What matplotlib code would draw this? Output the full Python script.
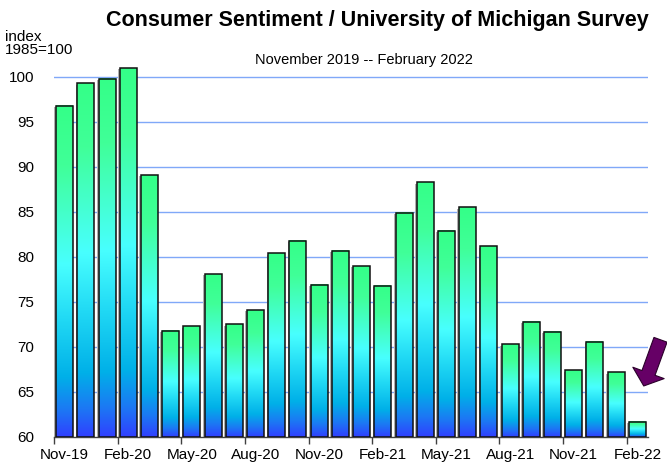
import matplotlib
matplotlib.use("Agg")
import matplotlib.pyplot as plt
import numpy as np
from matplotlib.colors import LinearSegmentedColormap
from matplotlib.patches import Rectangle

months = ["Nov-19", "Dec-19", "Jan-20", "Feb-20", "Mar-20", "Apr-20", "May-20",
          "Jun-20", "Jul-20", "Aug-20", "Sep-20", "Oct-20", "Nov-20", "Dec-20",
          "Jan-21", "Feb-21", "Mar-21", "Apr-21", "May-21", "Jun-21", "Jul-21",
          "Aug-21", "Sep-21", "Oct-21", "Nov-21", "Dec-21", "Jan-22", "Feb-22"]
values = [96.8, 99.3, 99.8, 101.0, 89.1, 71.8, 72.3, 78.1, 72.5, 74.1, 80.4,
          81.8, 76.9, 80.7, 79.0, 76.8, 84.9, 88.3, 82.9, 85.5, 81.2, 70.3,
          72.8, 71.7, 67.4, 70.6, 67.2, 61.7]
yticks = [60, 65, 70, 75, 80, 85, 90, 95, 100]

FONT = ['Liberation Sans Narrow', 'Liberation Sans', 'DejaVu Sans']
plt.rcParams['font.family'] = FONT

fig = plt.figure(figsize=(6.67, 4.68), dpi=100)
ax = fig.add_axes([54/667, 31/468, (648-54)/667, (437-59)/468])
ymin, ymax = 60, 102

cmap = LinearSegmentedColormap.from_list("grad", [
    (0.0, "#3040ff"), (0.08, "#1c78f4"), (0.18, "#00b0e8"),
    (0.35, "#20d8f4"), (0.52, "#48ffff"), (0.68, "#44ffc8"),
    (0.82, "#40ff98"), (1.0, "#34ff88")])
grad = np.linspace(0, 1, 256).reshape(-1, 1)

x = np.arange(len(values))
w = 0.8
for xi, v in zip(x, values):
    ax.add_patch(Rectangle((xi - w/2 - 0.08, ymin), w, v - ymin - 0.15,
                           facecolor="#b0b0b0", edgecolor="none", zorder=2))
    ax.imshow(grad, cmap=cmap, origin="lower", aspect="auto",
              extent=(xi - w/2, xi + w/2, ymin, v), zorder=3,
              interpolation="bilinear")
ax.bar(x, np.array(values) - ymin, bottom=ymin, width=w, facecolor="none",
       edgecolor="#101010", linewidth=1.1, zorder=4)
ax.set_xlim(-0.5, len(values) - 0.5)
ax.set_ylim(ymin, ymax)

for yv in yticks[1:]:
    ax.axhline(yv, color="#80a8f8", lw=1.0, zorder=1)

for s in ["top", "right", "left"]:
    ax.spines[s].set_visible(False)
ax.spines["bottom"].set_color("#404040")
ax.spines["bottom"].set_linewidth(1.0)

ax.set_yticks(yticks)
ax.set_yticklabels([str(t) for t in yticks], fontsize=11)
ax.tick_params(axis="y", length=0, pad=14)

ax.set_xticks(x[::3] - 0.5)
ax.set_xticklabels([])
ax.tick_params(axis="x", which="major", length=5, color="#404040", width=1)
ax.set_xticks(x[::3], minor=True)
ax.set_xticklabels([months[i] for i in x[::3]], minor=True, fontsize=11)
ax.tick_params(axis="x", which="minor", length=0, pad=8)

fig.text(0.566, 0.957, "Consumer Sentiment / University of Michigan Survey",
         ha="center", va="center", fontsize=15.5, fontweight="bold")
fig.text(0.546, 0.872, "November 2019 -- February 2022", ha="center",
         va="center", fontsize=10.5)
fig.text(0.008, 0.907, "index\n1985=100", ha="left", va="center",
         fontsize=11, linespacing=0.9)

last = len(values) - 1
ax.annotate("", xy=(last + 0.30, values[-1] + 3.97),
            xytext=(last + 1.09, values[-1] + 9.1),
            arrowprops=dict(arrowstyle="simple,head_length=1.0,head_width=2.4,tail_width=1.0",
                            fc="#660066", ec="#2a002a", lw=0.8,
                            shrinkA=0, shrinkB=0),
            annotation_clip=False, zorder=6)

fig.savefig("out.png", dpi=100)
